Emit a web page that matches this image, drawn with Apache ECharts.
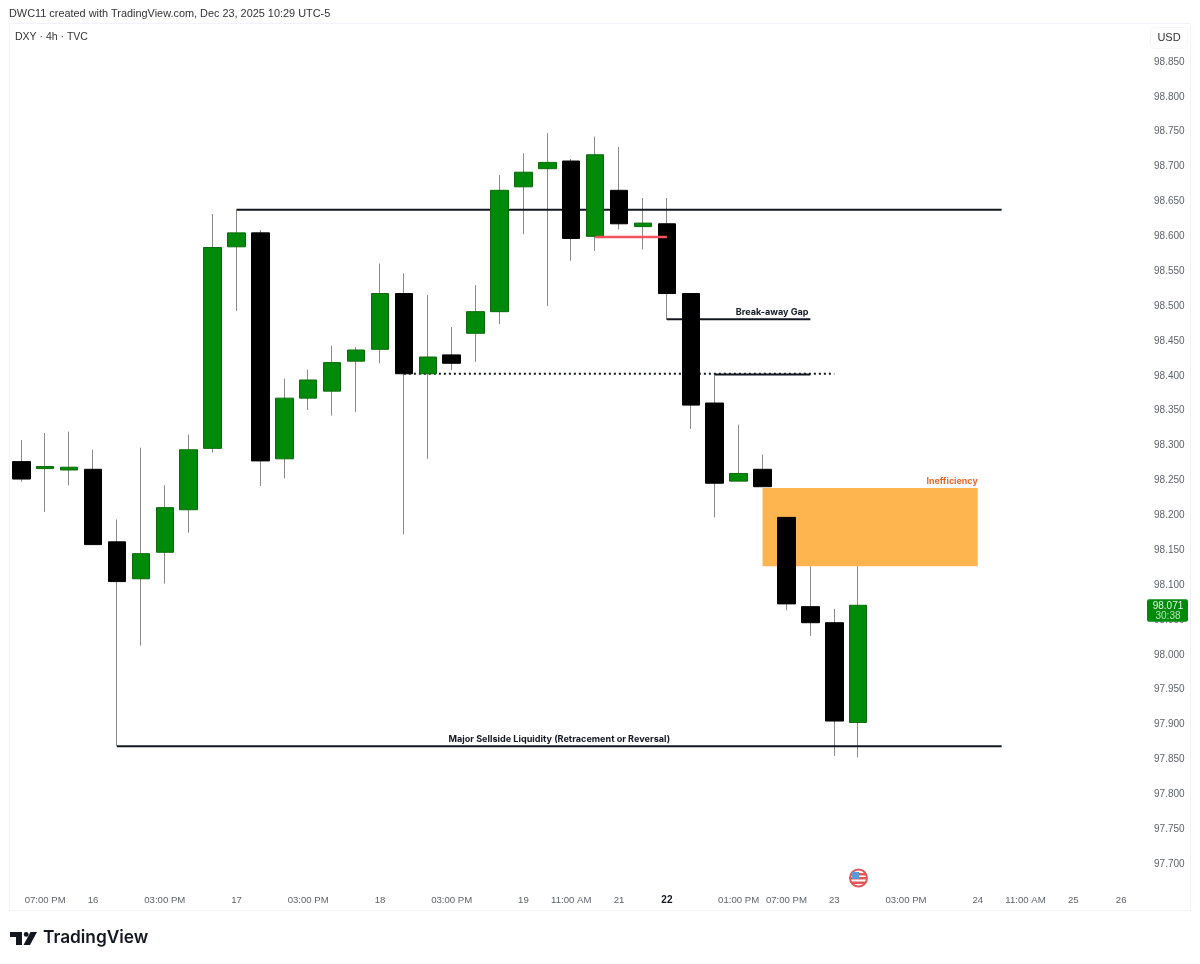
<!DOCTYPE html>
<html>
<head>
<meta charset="utf-8">
<style>html,body{margin:0;padding:0;background:#fff}#c{width:1200px;height:964px}</style>
<script src="https://cdn.jsdelivr.net/npm/echarts@6/dist/echarts.min.js"></script>
</head>
<body>
<div id="c"></div>
<script>
const tickLabels = ['', '07:00 PM', '', '16', '', '', '03:00 PM', '', '', '17', '', '', '03:00 PM', '', '', '18', '', '', '03:00 PM', '', '', '19', '', '11:00 AM', '', '21', '', '22', '', '', '01:00 PM', '', '07:00 PM', '', '23', '', '', '03:00 PM', '', '', '24', '', '11:00 AM', '', '25', '', '26', ''];
const opens  = [98.277,98.267,98.265,98.266,98.162,98.109,98.147,98.208,98.296,98.585,98.605,98.281,98.368,98.378,98.421,98.438,98.518,98.403,98.430,98.461,98.492,98.671,98.697,98.708,98.600,98.666,98.614,98.618,98.518,98.361,98.249,98.266,98.197,98.069,98.046,97.903];
const closes = [98.252,98.270,98.269,98.158,98.105,98.145,98.211,98.294,98.584,98.605,98.278,98.368,98.394,98.419,98.437,98.518,98.403,98.427,98.418,98.492,98.666,98.692,98.706,98.597,98.717,98.618,98.619,98.518,98.358,98.246,98.260,98.241,98.073,98.046,97.905,98.071];
const lows   = [98.248,98.205,98.243,98.158,97.869,98.013,98.102,98.175,98.290,98.493,98.242,98.253,98.351,98.343,98.348,98.418,98.173,98.281,98.408,98.420,98.474,98.603,98.500,98.565,98.579,98.610,98.581,98.480,98.324,98.197,98.249,98.241,98.064,98.027,97.855,97.853];
const highs  = [98.308,98.318,98.320,98.294,98.194,98.297,98.243,98.316,98.632,98.638,98.609,98.396,98.409,98.443,98.441,98.561,98.547,98.516,98.470,98.530,98.688,98.719,98.748,98.711,98.743,98.728,98.655,98.655,98.518,98.401,98.330,98.287,98.197,98.127,98.066,98.130];
// [from candle, to candle, price]
const solidLevels  = [[9,41,98.638],[4,41,97.869],[27,33,98.481],[29,33,98.402]];
const dottedLevels = [[16,34,98.403]];
const redLevels    = [[24,27,98.599]];
// [from candle, to candle, top price, bottom price]
const gapZones     = [[31,40,98.239,98.127]];
// [candle, price, text]
const blackNotes   = [[31.4,98.491,'Break-away Gap'],[22.5,97.879,'Major Sellside Liquidity (Retracement or Reversal)']];
const orangeNotes  = [[40,98.249,'Inefficiency']];
const lastPrice    = 98.071;
const countdown    = '30:38';
const lastCandle   = 35;

const FONT = 'Inter, "Noto Sans", sans-serif';
const AXISFONT = '"Liberation Sans", Arial, sans-serif';
const chart = echarts.init(document.getElementById('c'), null, {renderer:'canvas'});
const wickData = opens.map((o,i)=>[o,closes[i],lows[i],highs[i]]);
const bodyData = opens.map((o,i)=>[o,closes[i],Math.min(o,closes[i]),Math.max(o,closes[i])]);

function lineSeries(name,data,z,style){
  return {type:'custom',name,z,silent:true,clip:false,data,
    dimensions:['a','b','p'],encode:{x:0,y:2},
    renderItem(p,api){
      const a=api.coord([api.value(0),api.value(2)]), b=api.coord([api.value(1),api.value(2)]);
      return {type:'line',shape:{x1:a[0],y1:a[1],x2:b[0],y2:b[1]},style:Object.assign({fill:null},style)};
    }};
}
function noteSeries(name,data,z,style){
  return {type:'custom',name,z,silent:true,clip:false,data:data.map(d=>[Math.floor(d[0]),d[1]]),
    encode:{x:0,y:1},
    renderItem(p,api){
      const d=data[p.dataIndex];
      const a=api.coord([Math.floor(d[0]),d[1]]);
      const w=api.size([1,0])[0];
      return {type:'text',x:a[0]+(d[0]%1)*w,y:a[1],
        style:{text:d[2],font:style.font,fill:style.fill,align:style.align,verticalAlign:'middle'}};
    }};
}

chart.setOption({
  animation:false,
  backgroundColor:'#fff',
  grid:{left:9.35,top:27.13,width:1147.7,height:871.75,containLabel:false},
  xAxis:{type:'category',data:tickLabels.map((t,i)=>i),boundaryGap:true,
    axisLine:{show:false},axisTick:{show:false},splitLine:{show:false},
    axisLabel:{interval:0,margin:-4,hideOverlap:false,fontFamily:AXISFONT,fontSize:9.6,color:'#5f6368',
      formatter:(v,i)=>{const t=tickLabels[i]; return t==='22'?'{b|22}':t;},
      rich:{b:{fontFamily:AXISFONT,fontSize:10,fontWeight:700,color:'#131722'}}}},
  yAxis:{type:'value',position:'right',min:97.65,max:98.9,interval:0.05,
    axisLine:{show:false},axisTick:{show:false},splitLine:{show:false},
    axisLabel:{margin:-3,fontFamily:AXISFONT,fontSize:10,color:'#5f6368',showMinLabel:false,showMaxLabel:false,
      formatter:v=>v.toFixed(3)}},
  series:[
    {type:'candlestick',name:'Wicks',z:1,barWidth:1,silent:true,clip:false,data:wickData,
      itemStyle:{color:'#8a8a8a',color0:'#8a8a8a',borderColor:'#8a8a8a',borderColor0:'#8a8a8a',borderWidth:1}},
    {type:'custom',name:'Inefficiency zone',z:2,silent:true,clip:false,data:gapZones,
      dimensions:['a','b','t','m'],encode:{x:0,y:2},
      renderItem(p,api){
        const a=api.coord([api.value(0),api.value(2)]), b=api.coord([api.value(1),api.value(3)]);
        return {type:'rect',shape:{x:a[0],y:a[1],width:b[0]-a[0],height:b[1]-a[1]},style:{fill:'#ffb54f'}};
      }},
    lineSeries('Levels',solidLevels,3,{stroke:'#131722',lineWidth:2}),
    lineSeries('Dotted',dottedLevels,3,{stroke:'#131722',lineWidth:2,lineDash:[2,3]}),
    {type:'candlestick',name:'DXY',z:4,barWidth:18,silent:true,clip:false,data:bodyData,
      itemStyle:{color:'#008a0a',color0:'#000000',borderColor:'#0b6b0b',borderColor0:'#000000',borderWidth:1}},
    lineSeries('Red',redLevels,5,{stroke:'#f7525f',lineWidth:2.5}),
    noteSeries('Notes',blackNotes,6,{font:'700 9.1px '+FONT,fill:'#131722',align:'center'}),
    noteSeries('Notes2',orangeNotes,6,{font:'700 8.9px '+FONT,fill:'#e8682a',align:'right'}),
    {type:'custom',name:'Last price',z:7,silent:true,clip:false,data:[[lastCandle,lastPrice]],encode:{x:0,y:1},
      renderItem(p,api){
        const y=api.coord([lastCandle,lastPrice])[1];
        return {type:'group',children:[
          {type:'rect',shape:{x:1147,y:y-6,width:41,height:22.5,r:2},style:{fill:'#008a0a'}},
          {type:'text',x:1168,y:y+0.5,style:{text:lastPrice.toFixed(3),font:'10px '+AXISFONT,fill:'#e6f5e6',align:'center',verticalAlign:'middle'}},
          {type:'text',x:1168,y:y+10.5,style:{text:countdown,font:'10px '+AXISFONT,fill:'#b7e0b7',align:'center',verticalAlign:'middle'}}
        ]};
      }}
  ],
  graphic:[
    {type:'rect',z:-1,silent:true,shape:{x:9.5,y:23.5,width:1181,height:887},style:{fill:'none',stroke:'#f0f3fa',lineWidth:1}},
    {type:'rect',z:-1,silent:true,shape:{x:1150.5,y:27.5,width:37,height:21,r:4},style:{fill:'#fff',stroke:'#f5f6f8',lineWidth:1}},
    {type:'text',x:9,y:14,style:{text:'DWC11 created with TradingView.com, Dec 23, 2025 10:29 UTC-5',font:'10.9px '+AXISFONT,fill:'#333',verticalAlign:'middle'}},
    {type:'text',x:15,y:37,style:{text:'DXY · 4h · TVC',font:'10.5px '+AXISFONT,fill:'#333',verticalAlign:'middle'}},
    {type:'text',x:1169,y:38,style:{text:'USD',font:'11px '+AXISFONT,fill:'#333',align:'center',verticalAlign:'middle'}},
    // event flag
    {type:'circle',shape:{cx:858.5,cy:878,r:8.5},style:{fill:'#fff',stroke:'#e2575a',lineWidth:2}},
    {type:'rect',shape:{x:851,y:873,width:15,height:2.5},style:{fill:'#e2575a'}},
    {type:'rect',shape:{x:851,y:877,width:15,height:2.5},style:{fill:'#e2575a'}},
    {type:'rect',shape:{x:851,y:881.5,width:15,height:2.5},style:{fill:'#e2575a'}},
    {type:'rect',shape:{x:852,y:872,width:7,height:7},style:{fill:'#5b9bd9'}},
    // logo
    {type:'polygon',shape:{points:[[10,932],[22,932],[22,945],[16,945],[16,937],[10,937]]},style:{fill:'#131722'}},
    {type:'circle',shape:{cx:26.2,cy:934.4,r:2.4},style:{fill:'#131722'}},
    {type:'polygon',shape:{points:[[30.5,932],[37,932],[30,945],[23.5,945]]},style:{fill:'#131722'}},
    {type:'text',x:43,y:938,style:{text:'TradingView',font:'600 17.3px '+FONT,fill:'#131722',verticalAlign:'middle'}}
  ]
});
</script>
</body>
</html>
